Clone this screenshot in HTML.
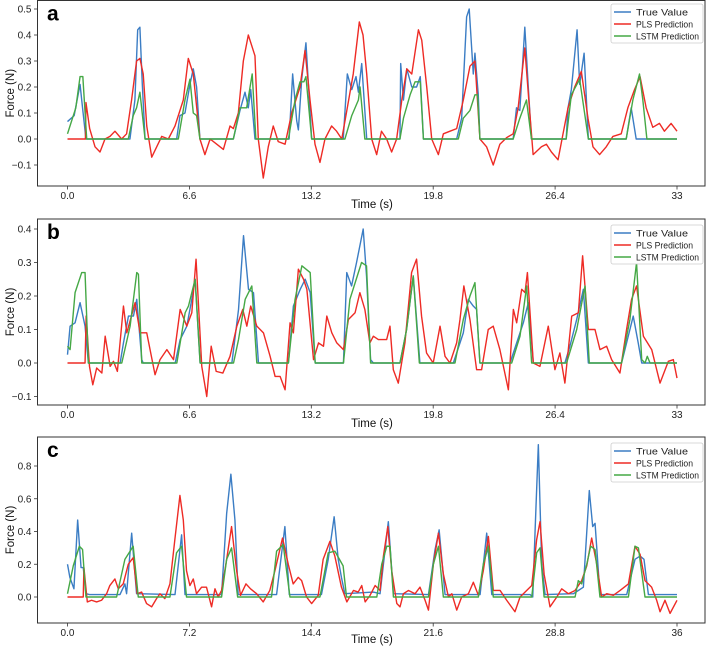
<!DOCTYPE html>
<html><head><meta charset="utf-8"><style>
html,body{margin:0;padding:0;background:#fff;}
svg{display:block;font-family:"Liberation Sans",sans-serif;}
</style></head><body>
<svg id="chart" width="708" height="647" viewBox="0 0 708 647" xmlns="http://www.w3.org/2000/svg"></svg>
<script>
// ---------- data (time s, force N) ----------
const aTrue=[[0,0.067],[0.36,0.09],[0.68,0.21],[0.83,0.11],[1.0,0],[3.38,0],[3.65,0.15],[3.8,0.42],[3.92,0.43],[4.05,0.21],[4.2,0],[5.91,0],[6.09,0.09],[6.36,0.1],[6.63,0.21],[6.81,0.27],[6.99,0.2],[7.17,0],[8.98,0],[9.34,0.11],[9.61,0.18],[9.79,0.12],[9.92,0.19],[10.15,0],[12.0,0],[12.19,0.25],[12.41,0.07],[12.5,0.035],[12.68,0.23],[12.91,0.37],[13.22,0],[14.93,0],[15.15,0.25],[15.39,0.19],[15.62,0.24],[15.75,0.18],[15.93,0.29],[16.2,0],[18.0,0],[18.04,0.29],[18.19,0.15],[18.37,0.27],[18.64,0.2],[18.9,0.2],[19.1,0.24],[19.27,0],[21.07,0],[21.34,0.08],[21.61,0.47],[21.75,0.5],[21.97,0.25],[22.06,0.33],[22.24,0.17],[22.33,0],[24.13,0],[24.31,0.12],[24.49,0.11],[24.76,0.43],[24.94,0.21],[25.12,0],[27.0,0],[27.1,0.12],[27.28,0.19],[27.59,0.42],[27.73,0.21],[27.97,0.33],[28.2,0],[30.25,0],[30.52,0.12],[30.79,0],[33,0]];
const aPLS=[[0,0],[0.97,0],[1.0,0.14],[1.2,0.04],[1.49,-0.03],[1.76,-0.05],[2.03,0],[2.3,0.01],[2.57,0.03],[2.93,0],[3.2,0.02],[3.47,0.15],[3.74,0.3],[3.92,0.31],[4.1,0.25],[4.29,0.05],[4.56,-0.07],[4.83,-0.03],[5.1,0.01],[5.46,0],[5.82,0.05],[6.27,0.15],[6.54,0.31],[6.81,0.25],[7.17,0],[7.44,-0.06],[7.72,0],[8.08,-0.02],[8.44,-0.04],[8.8,0.05],[8.98,0.04],[9.25,0.1],[9.52,0.3],[9.79,0.4],[10.15,0.32],[10.33,0],[10.6,-0.15],[10.87,-0.03],[11.14,0.05],[11.41,-0.01],[11.78,-0.02],[12.14,0.1],[12.59,0.2],[12.86,0.34],[13.13,0.15],[13.4,-0.02],[13.67,-0.09],[13.94,0],[14.3,0.05],[14.57,0.03],[14.85,0],[15.1,0.1],[15.47,0.25],[15.8,0.45],[16.0,0.4],[16.2,0.25],[16.47,0],[16.74,-0.06],[17.0,0.03],[17.28,0],[17.55,-0.05],[17.82,0],[18.1,0.15],[18.37,0.27],[18.64,0.25],[19.0,0.42],[19.18,0.38],[19.45,0.2],[19.72,0],[20.08,-0.06],[20.35,0.02],[20.71,0.03],[21.07,0.04],[21.43,0.15],[21.79,0.28],[22.06,0.3],[22.33,0],[22.69,-0.03],[23.05,-0.1],[23.41,-0.02],[23.77,0.005],[24.13,0.02],[24.4,0.12],[24.76,0.35],[25.03,0.1],[25.21,-0.06],[25.66,-0.03],[25.93,-0.02],[26.2,-0.05],[26.56,-0.08],[26.83,0.02],[27.1,0.12],[27.46,0.2],[27.82,0.26],[28.18,0.08],[28.45,-0.03],[28.81,-0.06],[29.17,-0.03],[29.53,0.01],[29.98,0.02],[30.34,0.12],[30.7,0.19],[31.0,0.24],[31.33,0.12],[31.69,0.045],[32.05,0.06],[32.32,0.03],[32.68,0.06],[33.0,0.03]];
const aLSTM=[[0,0.02],[0.45,0.12],[0.68,0.24],[0.83,0.24],[1.04,0],[3.29,0],[3.56,0.09],[3.74,0.12],[3.92,0.18],[4.2,0],[6.0,0],[6.36,0.15],[6.63,0.23],[6.81,0.1],[6.99,0.09],[7.17,0],[8.98,0],[9.34,0.12],[9.7,0.12],[10.0,0.25],[10.2,0],[11.96,0],[12.32,0.15],[12.59,0.22],[12.8,0.22],[12.91,0.24],[13.22,0],[15.02,0],[15.39,0.09],[15.75,0.15],[15.84,0.2],[16.1,0],[18.0,0],[18.19,0.08],[18.55,0.17],[18.82,0.22],[19.1,0.22],[19.27,0],[21.16,0],[21.43,0.08],[21.79,0.11],[22.06,0.17],[22.2,0.17],[22.33,0],[24.13,0],[24.49,0.08],[24.85,0.15],[25.12,0],[27.0,0],[27.28,0.17],[27.73,0.23],[28.2,0],[30.25,0],[30.61,0.15],[30.97,0.25],[31.15,0.15],[31.37,0],[33,0]];

const bTrue=[[0,0.025],[0.14,0.11],[0.41,0.12],[0.68,0.18],[0.95,0.11],[1.13,0],[2.85,0],[3.03,0.06],[3.3,0.14],[3.57,0.14],[3.75,0.19],[4.02,0.01],[4.1,0],[5.83,0],[6.1,0.07],[6.46,0.11],[6.73,0.19],[6.91,0.25],[7.18,0],[8.9,0],[9.26,0.16],[9.53,0.38],[9.8,0.22],[10.07,0.21],[10.34,0],[11.96,0],[12.23,0.17],[12.6,0.22],[12.87,0.25],[13.14,0.21],[13.41,0],[14.94,0],[15.12,0.27],[15.38,0.23],[15.65,0.3],[16.01,0.4],[16.19,0.26],[16.41,0.01],[16.56,0],[18.0,0],[18.36,0.1],[18.72,0.26],[19.08,0],[20.89,0],[21.43,0.09],[21.7,0.19],[21.97,0.17],[22.15,0.16],[22.33,0],[23.96,0],[24.32,0.06],[24.68,0.12],[24.95,0.18],[25.22,0],[26.93,0],[27.2,0.05],[27.57,0.13],[27.93,0.22],[28.2,0],[30.0,0],[30.27,0.06],[30.63,0.14],[30.9,0.06],[31.09,0],[33,0]];
const bPLS=[[0,0],[0.95,0],[1.01,0.14],[1.19,-0.01],[1.37,-0.065],[1.58,-0.015],[1.86,-0.03],[2.04,0.08],[2.31,-0.01],[2.49,0.005],[2.7,-0.025],[3.03,0.17],[3.21,0.09],[3.66,0.18],[3.93,0.09],[4.29,0.09],[4.74,-0.035],[5.01,0.01],[5.38,0.04],[5.74,0.01],[6.1,0.16],[6.46,0.11],[6.73,0.15],[6.96,0.31],[7.27,-0.01],[7.54,-0.1],[7.78,0.05],[8.05,-0.025],[8.41,-0.03],[8.8,0.02],[9.17,0.11],[9.49,0.16],[9.71,0.11],[9.92,0.17],[10.25,0.11],[10.61,0.09],[10.97,0.02],[11.24,-0.04],[11.51,-0.04],[11.78,-0.08],[12.05,0.12],[12.23,0.09],[12.5,0.28],[12.78,0.25],[12.96,0.22],[13.32,0.01],[13.59,0.06],[13.86,0.05],[14.04,0.14],[14.31,0.09],[14.58,0.06],[14.94,0.04],[15.21,0.13],[15.57,0.15],[15.83,0.21],[16.1,0.16],[16.37,0.06],[16.56,0.08],[16.83,0.07],[17.28,0.07],[17.46,0.11],[17.64,-0.02],[17.91,-0.06],[18.27,0.06],[18.63,0.27],[18.9,0.31],[19.17,0.14],[19.44,0.03],[19.8,0],[20.17,0.11],[20.44,0.02],[20.71,0],[21.07,0.06],[21.25,0.13],[21.46,0.23],[21.79,0.13],[22.15,-0.02],[22.42,-0.02],[22.78,0.1],[23.05,0.11],[23.41,0.04],[23.87,-0.08],[24.14,0.16],[24.32,0.12],[24.59,0.22],[24.77,0.21],[24.9,0.27],[25.22,0],[25.58,-0.01],[26.03,0.11],[26.39,-0.02],[26.66,0.03],[26.93,-0.06],[27.3,0.14],[27.66,0.15],[27.89,0.32],[28.2,0.1],[28.56,0.1],[28.83,0.04],[29.19,0.05],[29.46,0.01],[29.91,-0.03],[30.27,0.1],[30.54,0.19],[30.81,0.23],[31.18,0.08],[31.63,0.04],[32.08,-0.06],[32.53,0.005],[32.8,0.01],[33.0,-0.045]];
const bLSTM=[[0,0.05],[0.14,0.04],[0.41,0.21],[0.77,0.27],[0.95,0.27],[1.13,0],[2.94,0],[3.39,0.11],[3.75,0.27],[3.84,0.265],[4.02,0],[5.92,0],[6.37,0.15],[6.55,0.17],[6.91,0.25],[7.18,0],[8.99,0],[9.26,0.07],[9.62,0.19],[9.98,0.23],[10.25,0],[11.96,0],[12.32,0.19],[12.69,0.29],[13.14,0.27],[13.41,0],[14.94,0],[15.29,0.19],[15.92,0.3],[16.19,0.29],[16.41,0],[18.0,0],[18.36,0.1],[18.72,0.26],[19.05,0],[20.98,0],[21.43,0.13],[21.79,0.2],[22.06,0.24],[22.33,0],[24.05,0],[24.5,0.08],[24.86,0.23],[25.13,0],[27.02,0],[27.57,0.1],[28.02,0.23],[28.25,0],[30.0,0],[30.45,0.13],[30.81,0.3],[31.09,0.01],[31.27,0],[31.39,0.02],[31.54,0],[33,0]];

const cTrue=[[0,0.2],[0.14,0.12],[0.38,0.05],[0.6,0.47],[0.8,0.18],[0.93,0.18],[1.09,0.02],[1.3,0.015],[3.1,0.015],[3.39,0.08],[3.49,0.02],[3.79,0.39],[4.08,0.02],[6.35,0.015],[6.74,0.38],[6.94,0.015],[9.1,0.015],[9.4,0.51],[9.65,0.75],[9.89,0.47],[10.08,0.015],[12.35,0.015],[12.84,0.43],[13.1,0.015],[15.0,0.015],[15.4,0.23],[15.75,0.49],[15.99,0.23],[16.18,0.12],[16.38,0.02],[18.07,0.03],[18.46,0.02],[18.66,0.2],[18.95,0.46],[19.25,0.02],[21.32,0.015],[21.71,0.29],[21.95,0.41],[22.3,0.015],[24.37,0.015],[24.76,0.39],[25.06,0.015],[27.32,0.015],[27.48,0],[27.62,0.41],[27.81,0.93],[28.01,0.2],[28.21,0.015],[29.88,0.02],[30.47,0.06],[30.82,0.65],[31.02,0.43],[31.16,0.45],[31.45,0.015],[33.03,0.015],[33.52,0.23],[33.82,0.25],[34.05,0.23],[34.31,0.015],[36,0.015]];
const cPLS=[[0,0],[0.93,0],[0.97,0.18],[1.17,-0.03],[1.42,-0.02],[1.72,-0.03],[2.01,-0.02],[2.31,0.02],[2.5,0.07],[2.8,0.11],[3.0,0.05],[3.29,0.08],[3.59,0.2],[3.88,0.24],[4.12,0.02],[4.38,0.03],[4.67,-0.04],[4.97,-0.06],[5.26,-0.01],[5.46,0.02],[5.75,-0.01],[6.05,0.08],[6.34,0.35],[6.64,0.62],[6.84,0.47],[7.03,0.16],[7.23,0.07],[7.43,0.11],[7.62,0.02],[7.92,0.06],[8.21,0.06],[8.51,-0.06],[8.71,0.05],[8.9,0],[9.1,0.04],[9.4,0.23],[9.69,0.43],[9.99,0.16],[10.22,0.01],[10.54,0.08],[10.81,0.05],[11.17,0.02],[11.56,-0.03],[11.95,0.04],[12.25,0.16],[12.7,0.36],[13.04,0.2],[13.33,0.08],[13.63,0.12],[13.83,0.1],[14.12,0],[14.42,-0.04],[14.81,0.01],[15.1,0.23],[15.5,0.34],[15.79,0.25],[16.18,0.06],[16.5,-0.03],[16.89,0.04],[17.17,0.03],[17.38,0.07],[17.58,-0.03],[17.87,0.01],[18.17,0.07],[18.46,0.04],[18.66,0.25],[18.92,0.43],[19.15,0.16],[19.45,-0.04],[19.64,-0.06],[19.84,0.02],[20.14,0.04],[20.53,0.02],[20.82,0.06],[21.12,-0.02],[21.32,-0.08],[21.61,0.2],[21.91,0.39],[22.2,0.14],[22.5,0],[22.7,0.02],[22.99,-0.08],[23.28,0],[23.68,0.02],[23.97,0.09],[24.27,0.01],[24.56,0.16],[24.86,0.37],[25.15,0.04],[25.55,0.04],[25.94,-0.02],[26.43,-0.09],[26.73,0],[27.12,0.04],[27.42,0.07],[27.71,0.35],[27.91,0.46],[28.15,0.14],[28.5,-0.06],[28.9,0],[29.19,0.05],[29.58,0.02],[29.98,0.04],[30.37,0.1],[30.67,0.19],[30.96,0.36],[31.26,0.2],[31.55,0],[31.85,0.02],[32.24,0.01],[32.64,0.04],[33.13,0.08],[33.52,0.31],[33.82,0.26],[34.11,0.1],[34.5,0.06],[34.8,-0.02],[35.0,-0.09],[35.29,-0.02],[35.59,-0.1],[36.0,-0.02]];
const cLSTM=[[0,0.02],[0.34,0.19],[0.7,0.31],[0.89,0.29],[1.09,0],[2.9,0],[3.39,0.23],[3.88,0.31],[4.18,0],[6.05,0],[6.44,0.27],[6.74,0.31],[7.03,0],[9.1,0],[9.4,0.23],[9.69,0.3],[10.05,0],[12.05,0],[12.35,0.28],[12.74,0.32],[13.14,0],[14.91,0],[15.4,0.27],[15.79,0.28],[16.28,0.19],[16.48,0],[18.27,0],[18.56,0.2],[18.86,0.31],[19.05,0.31],[19.25,0],[21.32,0],[21.61,0.2],[21.91,0.31],[22.2,0],[24.27,0],[24.56,0.2],[24.86,0.31],[25.15,0],[27.42,0],[27.71,0.27],[27.91,0.3],[28.15,0],[29.98,0],[30.17,0.1],[30.37,0.08],[30.67,0.2],[30.9,0.31],[31.16,0.29],[31.45,0],[33.13,0],[33.52,0.31],[33.72,0.3],[34.11,0],[36,0]];

const xTicksAB=[0,6.6,13.2,19.8,26.4,33];
const xTickLabelsAB=["0.0","6.6","13.2","19.8","26.4","33"];
const xTicksC=[0,7.2,14.4,21.6,28.8,36];
const xTickLabelsC=["0.0","7.2","14.4","21.6","28.8","36"];
const yTicksA=[-0.1,0,0.1,0.2,0.3,0.4,0.5];
const yTicksB=[-0.1,0,0.1,0.2,0.3,0.4];
const yTicksC=[0,0.2,0.4,0.6,0.8];
const seriesNames=["True Value","PLS Prediction","LSTM Prediction"];
const seriesColors=["#3b7dc4","#ee2b25","#45a845"];

const NS="http://www.w3.org/2000/svg";
const svg=document.getElementById("chart");
function mk(tag,attrs,parent){const e=document.createElementNS(NS,tag);for(const k in attrs)e.setAttribute(k,attrs[k]);(parent||svg).appendChild(e);return e;}

const panels=[
 {id:"a",top:0.5,bottom:186,y0:139,ppu:260,tmax:33,xt:xTicksAB,xl:xTickLabelsAB,yt:yTicksA,data:[aTrue,aPLS,aLSTM],lab:208,leg:4},
 {id:"b",top:219,bottom:405,y0:363,ppu:335,tmax:33,xt:xTicksAB,xl:xTickLabelsAB,yt:yTicksB,data:[bTrue,bPLS,bLSTM],lab:427,leg:225},
 {id:"c",top:437,bottom:623,y0:597,ppu:163.75,tmax:36,xt:xTicksC,xl:xTickLabelsC,yt:yTicksC,data:[cTrue,cPLS,cLSTM],lab:643,leg:443}
];
const L=37.5,R=705,X0=67.5,X1=677;
const legWidths=[52,57,63];

panels.forEach(p=>{
 const g=mk("g",{});
 
 
 const xs=t=>X0+(X1-X0)*t/p.tmax;
 const ys=v=>p.y0-p.ppu*v;
 p.data.forEach((d,i)=>{
   const path=mk("path",{d:d.map((q,j)=>(j?"L":"M")+xs(q[0]).toFixed(2)+","+ys(q[1]).toFixed(2)).join(""),fill:"none",stroke:seriesColors[i],"stroke-width":1.4,"stroke-linejoin":"round"},g);
   
   
 });
 const fr=mk("rect",{x:L,y:p.top,width:R-L,height:p.bottom-p.top,fill:"none",stroke:"#333","stroke-width":1},g);
 
 
 p.xt.forEach((t,i)=>{
   const x=xs(t);
   mk("line",{x1:x,x2:x,y1:p.bottom,y2:p.bottom+3.5,stroke:"#333","stroke-width":0.8},g);
   const tx=mk("text",{x:x,y:p.bottom+13,"font-size":"10","text-anchor":"middle",fill:"#222"},g);
   tx.textContent=p.xl[i];
   
   
 });
 p.yt.forEach(v=>{
   const y=ys(v);
   mk("line",{x1:L-3.5,x2:L,y1:y,y2:y,stroke:"#333","stroke-width":0.8},g);
   const tx=mk("text",{x:L-6,y:y+3.5,"font-size":"10","text-anchor":"end",fill:"#222"},g);
   tx.textContent=(v<0?"\u2212":"")+Math.abs(v).toFixed(1);
   
   
 });
 const xl=mk("text",{x:372,y:p.lab,"font-size":"11.5","text-anchor":"middle",fill:"#111"},g);
 xl.textContent="Time (s)";
 
 
 const cy=(p.top+p.bottom)/2;
 const yl=mk("text",{x:14,y:cy,"font-size":"11.5","text-anchor":"middle",fill:"#111",transform:"rotate(-90 14 "+cy+")"},g);
 yl.textContent="Force (N)";
 
 
 const pl=mk("text",{x:47,y:p.top+20,"font-size":"21","font-weight":"bold",fill:"#000"},g);
 pl.textContent=p.id;
 
 
 const lg=mk("g",{},g);
 
 
 mk("rect",{x:611,y:p.leg,width:92,height:39,fill:"#fff",stroke:"#ccc","stroke-width":0.8,rx:2},lg);
 seriesNames.forEach((n,i)=>{
   const yy=p.leg+8+i*12;
   mk("line",{x1:614,x2:631,y1:yy,y2:yy,stroke:seriesColors[i],"stroke-width":1.5},lg);
   const t=mk("text",{x:636,y:yy+3.3,"font-size":"9",fill:"#222",textLength:legWidths[i],lengthAdjust:"spacingAndGlyphs"},lg);
   t.textContent=n;
   
   
 });
});
</script>
</body></html>
